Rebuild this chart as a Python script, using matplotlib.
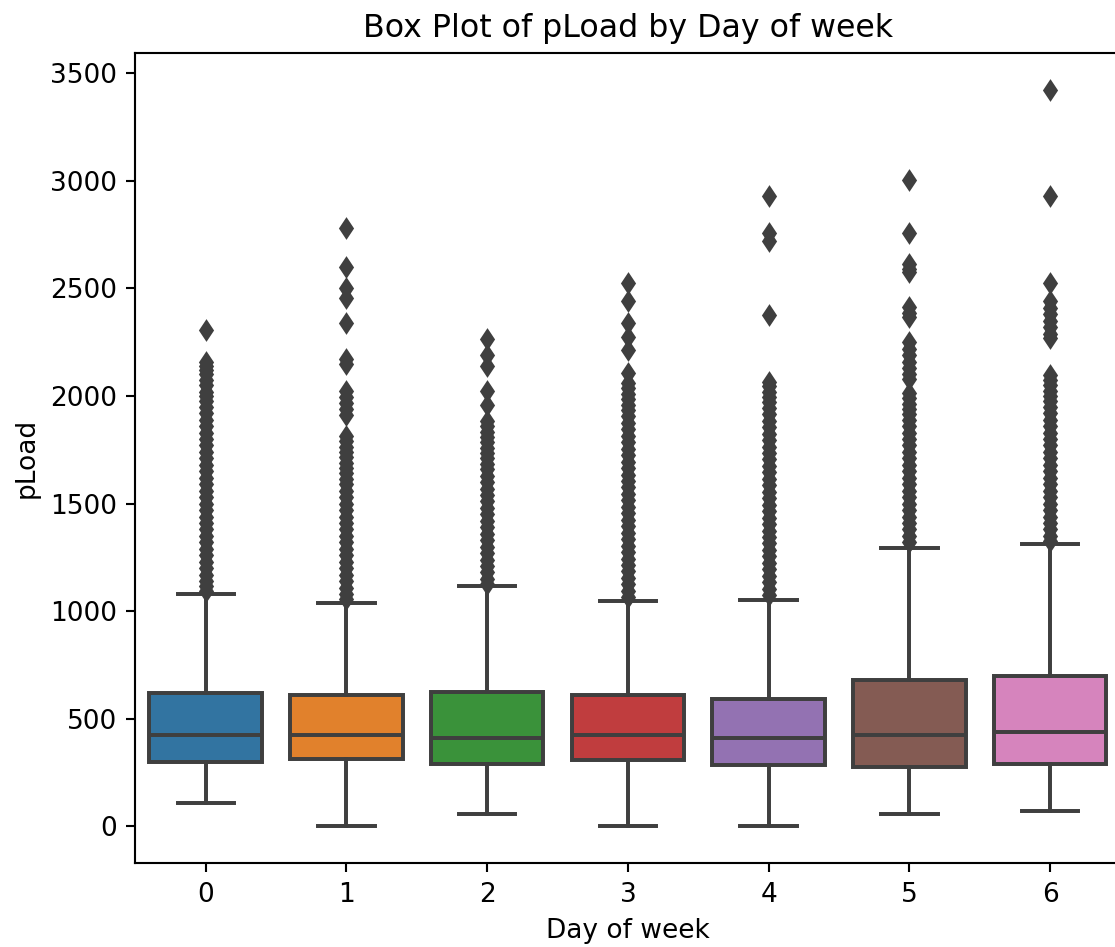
import matplotlib
matplotlib.use("Agg")
import matplotlib.pyplot as plt

days = ["0", "1", "2", "3", "4", "5", "6"]
q1 = [299, 314, 288, 307, 287, 277, 288]
median = [423, 423, 413, 423, 412, 423, 438]
q3 = [618, 610, 627, 610, 593, 681, 698]
whisker_low = [110, 0, 56, 0, 0, 56, 74]
whisker_high = [1082, 1039, 1118, 1046, 1054, 1296, 1314]

fliers_day0 = [2307, 2160, 2140, 2120, 2100, 2075, 2050, 2020, 2000, 1975, 1950, 1920,
               1890, 1860, 1830, 1800, 1770, 1740, 1710, 1680, 1650, 1620, 1590, 1560,
               1530, 1500, 1470, 1440, 1410, 1380, 1350, 1320, 1290, 1260, 1230, 1200,
               1170, 1140, 1115, 1095]
fliers_day1 = [2779, 2601, 2500, 2454, 2341, 2172, 2148, 2021, 1995, 1968, 1940, 1910,
               1812, 1790, 1765, 1740, 1715, 1690, 1665, 1640, 1615, 1590, 1560, 1530,
               1500, 1470, 1440, 1410, 1380, 1350, 1320, 1290, 1260, 1230, 1200, 1170,
               1140, 1110, 1080, 1055]
fliers_day2 = [2264, 2191, 2137, 2021, 1959, 1885, 1860, 1835, 1810, 1785, 1760, 1735,
               1710, 1685, 1660, 1630, 1600, 1570, 1540, 1510, 1480, 1450, 1420, 1390,
               1360, 1330, 1300, 1270, 1240, 1210, 1180, 1150, 1125]
fliers_day3 = [2524, 2439, 2338, 2276, 2214, 2106, 2060, 2035, 2010, 1985, 1960, 1935,
               1905, 1875, 1845, 1815, 1785, 1755, 1725, 1695, 1665, 1635, 1605, 1575,
               1545, 1515, 1485, 1455, 1425, 1395, 1365, 1335, 1305, 1275, 1245, 1215,
               1185, 1155, 1125, 1095, 1065]
fliers_day4 = [2931, 2756, 2722, 2376, 2067, 2045, 2020, 1995, 1970, 1945, 1915, 1885,
               1855, 1825, 1795, 1765, 1735, 1705, 1675, 1645, 1615, 1585, 1555, 1525,
               1495, 1465, 1435, 1405, 1375, 1345, 1315, 1285, 1255, 1225, 1195, 1165,
               1135, 1105, 1075]
fliers_day5 = [3003, 2756, 2612, 2590, 2578, 2413, 2385, 2367, 2250, 2220, 2190, 2160,
               2130, 2100, 2080, 2013, 1990, 1965, 1940, 1915, 1890, 1860, 1830, 1800,
               1770, 1740, 1710, 1680, 1650, 1620, 1590, 1560, 1530, 1500, 1470, 1440,
               1410, 1380, 1350, 1320]
fliers_day6 = [3421, 2931, 2524, 2440, 2410, 2380, 2350, 2320, 2290, 2270, 2098, 2073,
               2050, 2025, 2000, 1975, 1950, 1920, 1890, 1860, 1830, 1800, 1770, 1740,
               1710, 1680, 1650, 1620, 1590, 1560, 1530, 1500, 1470, 1440, 1410, 1380,
               1350, 1325]
fliers = [fliers_day0, fliers_day1, fliers_day2, fliers_day3, fliers_day4,
          fliers_day5, fliers_day6]

colors = ['#3274a1', '#e1812c', '#3a923a', '#c03d3e', '#9372b2', '#845b53', '#d684bd']
gray = '#3f3f3f'

dpi = 190
fig = plt.figure(figsize=(1115 / dpi, 947 / dpi), dpi=dpi)
ax = fig.add_axes([135.3 / 1115, (947 - 863.3) / 947,
                   (1120.5 - 135.3) / 1115, (863.3 - 53.3) / 947])

stats = []
for i in range(len(days)):
    stats.append(dict(label=days[i], q1=q1[i], med=median[i], q3=q3[i],
                      whislo=whisker_low[i], whishi=whisker_high[i],
                      fliers=fliers[i]))

res = ax.bxp(stats, positions=list(range(len(days))), widths=0.8, capwidths=0.4,
             patch_artist=True, showfliers=True,
             boxprops=dict(edgecolor=gray, linewidth=1.5),
             medianprops=dict(color=gray, linewidth=1.5),
             whiskerprops=dict(color=gray, linewidth=1.5),
             capprops=dict(color=gray, linewidth=1.5),
             flierprops=dict(marker='d', markerfacecolor=gray, markeredgecolor=gray,
                             markersize=5, linestyle='none'))
for patch, c in zip(res['boxes'], colors):
    patch.set_facecolor(c)

ax.set_xlim(-0.5, 6.5)
ax.set_ylim(-171, 3592)
ax.set_xticks(range(len(days)))
ax.set_xticklabels(days)
ax.set_yticks([0, 500, 1000, 1500, 2000, 2500, 3000, 3500])
ax.set_xlabel("Day of week")
ax.set_ylabel("pLoad")
ax.set_title("Box Plot of pLoad by Day of week")

fig.savefig("out.png", dpi=dpi)
